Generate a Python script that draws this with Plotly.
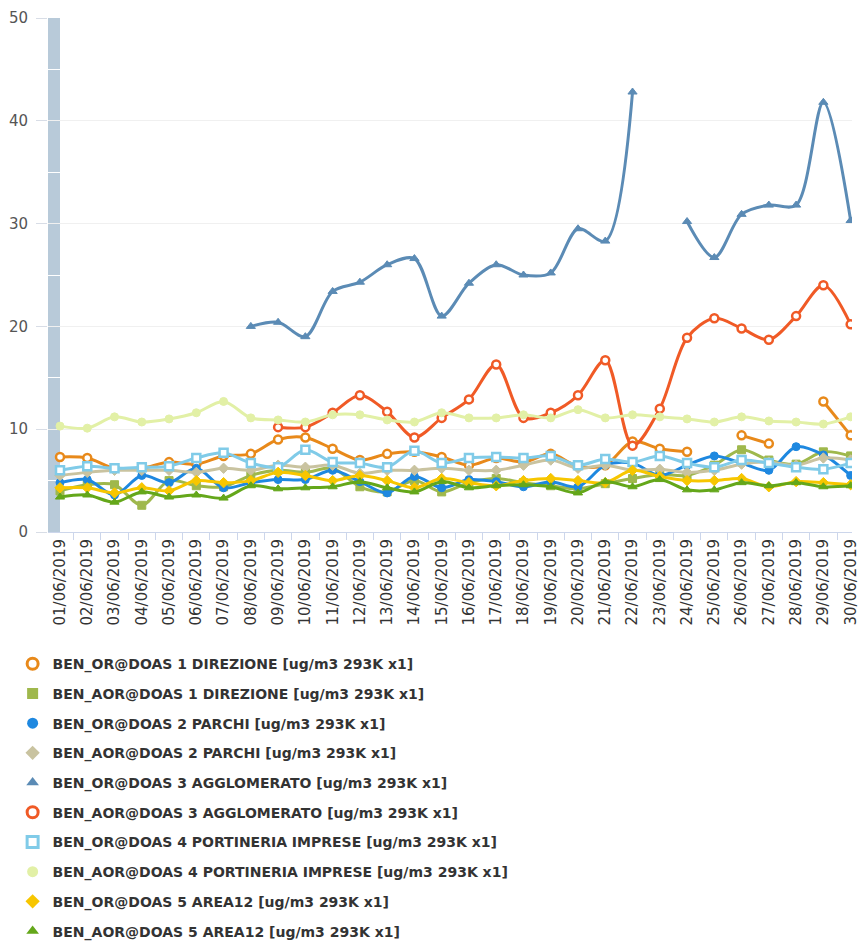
import plotly.graph_objects as go

dates = ["%02d/06/2019" % d for d in range(1, 31)]

s1_or_direzione = [7.3, 7.2, 6.2, 6.2, 6.8, 6.6, 7.4, 7.6, 9.0, 9.2, 8.1, 7.0, 7.6, 7.8, 7.3, 6.5, 7.2, 6.8, 7.6, 6.4, 6.5, 8.8, 8.1, 7.8, None, 9.4, 8.6, None, 12.7, 9.4]
s2_aor_direzione = [4.0, 4.6, 4.6, 2.6, 5.0, 4.5, 4.4, 5.5, 6.0, 5.8, 6.2, 4.4, 3.9, 5.0, 3.9, 4.8, 5.2, 4.8, 4.5, 4.2, 4.7, 5.2, 5.6, 5.5, 6.5, 8.0, 7.0, 6.6, 7.8, 7.4]
s3_or_parchi = [4.8, 5.1, 3.6, 5.5, 4.8, 6.2, 4.3, 4.8, 5.1, 5.1, 6.0, 4.9, 3.8, 5.4, 4.3, 5.1, 4.9, 4.4, 4.9, 4.4, 6.5, 6.7, 5.5, 6.5, 7.4, 6.7, 6.0, 8.3, 7.5, 5.5]
s4_aor_parchi = [5.5, 5.8, 6.0, 6.0, 6.0, 5.8, 6.2, 6.0, 6.5, 6.3, 6.5, 5.7, 6.0, 6.0, 6.2, 6.0, 6.0, 6.5, 7.0, 6.2, 6.5, 6.0, 6.1, 5.8, 6.0, 6.6, 6.8, 6.5, 7.2, 7.0]
s5_or_agglomerato = [None, None, None, None, None, None, None, 20.0, 20.4, 19.0, 23.4, 24.3, 26.0, 26.6, 21.0, 24.2, 26.0, 25.0, 25.2, 29.5, 28.3, 42.8, None, 30.2, 26.7, 30.9, 31.8, 31.8, 41.8, 30.3]
s6_aor_agglomerato = [None, None, None, None, None, None, None, None, 10.2, 10.2, 11.6, 13.3, 11.7, 9.2, 11.1, 12.9, 16.3, 11.1, 11.6, 13.3, 16.7, 8.4, 12.0, 18.9, 20.8, 19.8, 18.7, 21.0, 24.0, 20.2]
s7_or_portineria = [6.0, 6.4, 6.2, 6.3, 6.4, 7.2, 7.7, 6.7, 6.3, 8.0, 6.8, 6.7, 6.3, 7.9, 6.7, 7.2, 7.3, 7.2, 7.4, 6.5, 7.1, 6.8, 7.4, 6.7, 6.3, 7.0, 6.7, 6.3, 6.1, 6.7]
s8_aor_portineria = [10.3, 10.1, 11.2, 10.7, 11.0, 11.6, 12.7, 11.1, 10.9, 10.7, 11.4, 11.4, 10.9, 10.7, 11.6, 11.1, 11.1, 11.4, 11.1, 11.9, 11.1, 11.4, 11.2, 11.0, 10.7, 11.2, 10.8, 10.7, 10.5, 11.2]
s9_or_area12 = [4.3, 4.3, 3.8, 4.3, 4.0, 5.0, 4.8, 5.0, 5.8, 5.5, 5.0, 5.5, 5.0, 4.3, 5.2, 4.8, 4.5, 5.0, 5.2, 5.0, 4.8, 6.0, 5.4, 5.0, 5.0, 5.2, 4.4, 4.9, 4.8, 4.6]
s10_aor_area12 = [3.4, 3.6, 2.9, 3.9, 3.4, 3.6, 3.3, 4.5, 4.2, 4.3, 4.4, 4.9, 4.3, 3.9, 4.9, 4.3, 4.5, 4.6, 4.4, 3.8, 4.9, 4.4, 5.1, 4.1, 4.1, 4.8, 4.5, 4.8, 4.4, 4.5]

names = [
    "BEN_OR@DOAS 1 DIREZIONE [ug/m3 293K x1]",
    "BEN_AOR@DOAS 1 DIREZIONE [ug/m3 293K x1]",
    "BEN_OR@DOAS 2 PARCHI [ug/m3 293K x1]",
    "BEN_AOR@DOAS 2 PARCHI [ug/m3 293K x1]",
    "BEN_OR@DOAS 3 AGGLOMERATO [ug/m3 293K x1]",
    "BEN_AOR@DOAS 3 AGGLOMERATO [ug/m3 293K x1]",
    "BEN_OR@DOAS 4 PORTINERIA IMPRESE [ug/m3 293K x1]",
    "BEN_AOR@DOAS 4 PORTINERIA IMPRESE [ug/m3 293K x1]",
    "BEN_OR@DOAS 5 AREA12 [ug/m3 293K x1]",
    "BEN_AOR@DOAS 5 AREA12 [ug/m3 293K x1]",
]
series = [s1_or_direzione, s2_aor_direzione, s3_or_parchi, s4_aor_parchi, s5_or_agglomerato,
          s6_aor_agglomerato, s7_or_portineria, s8_aor_portineria, s9_or_area12, s10_aor_area12]
colors = ["#e8891a", "#9fb84c", "#1e88e0", "#c9c3a0", "#5b8bb5",
          "#f05a26", "#80cbe8", "#e2f0a6", "#f7c600", "#64a71a"]
symbols = ["circle", "square", "circle", "diamond", "triangle-up",
           "circle", "square", "circle", "diamond", "triangle-up"]
hollow = [True, False, False, False, False, True, True, False, False, False]

fig = go.Figure()
for name, ys, col, sym, hol in zip(names, series, colors, symbols, hollow):
    fig.add_trace(go.Scatter(
        x=dates, y=ys, mode="lines+markers", name=name, showlegend=False,
        line=dict(color=col, width=3, shape="spline", smoothing=0.9),
        marker=dict(symbol=sym, size=8, color="white" if hol else col,
                    line=dict(color=col, width=2.5 if hol else 1)),
        connectgaps=False,
    ))
for i, (name, col, sym, hol) in enumerate(zip(names, colors, symbols, hollow)):
    fig.add_trace(go.Scatter(
        x=[None], y=[None], mode="markers", name=name, legendgroup="g%d" % i,
        marker=dict(symbol=sym, size=11, color="white" if hol else col,
                    line=dict(color=col, width=3 if hol else 0)),
    ))

plot_w = 858 - 48 - 6
fig.add_shape(type="rect", xref="paper", yref="paper", x0=0, x1=12 / plot_w, y0=0, y1=1,
              fillcolor="#b8cad9", line=dict(width=0), layer="below")

fig.update_layout(
    width=858, height=941,
    margin=dict(l=48, r=6, t=18, b=409, autoexpand=False),
    paper_bgcolor="white", plot_bgcolor="white",
    font=dict(family="DejaVu Sans", color="#333333"),
    showlegend=True,
    legend=dict(
        orientation="v", x=-0.044, xanchor="left", y=-0.226, yanchor="top",
        font=dict(size=14, color="#333333", family="DejaVu Sans", weight="bold"),
        tracegroupgap=8.5, itemwidth=30,
    ),
    xaxis=dict(
        type="category", range=[-0.44, 29.05],
        tickangle=-90, tickson="boundaries", ticks="outside", ticklen=7,
        tickcolor="#ccd6eb", showline=True, linecolor="#ccd6eb", linewidth=1,
        showgrid=False, tickfont=dict(size=15, color="#333333"),
        ticklabeloverflow="allow",
    ),
    yaxis=dict(
        range=[0, 50], dtick=10, ticks="outside", ticklen=11, tickcolor="#d8dde6",
        ticklabelstandoff=5,
        showgrid=True, gridcolor="#f0f0f0", zeroline=False, showline=False,
        tickfont=dict(size=15, color="#555555"),
        minor=dict(dtick=5, showgrid=True, gridcolor="white", ticks=""),
    ),
)

fig.write_html(
    "out.html",
    config={"displayModeBar": False},
    post_script="document.body.style.margin='0';document.body.style.overflow='hidden';",
)
